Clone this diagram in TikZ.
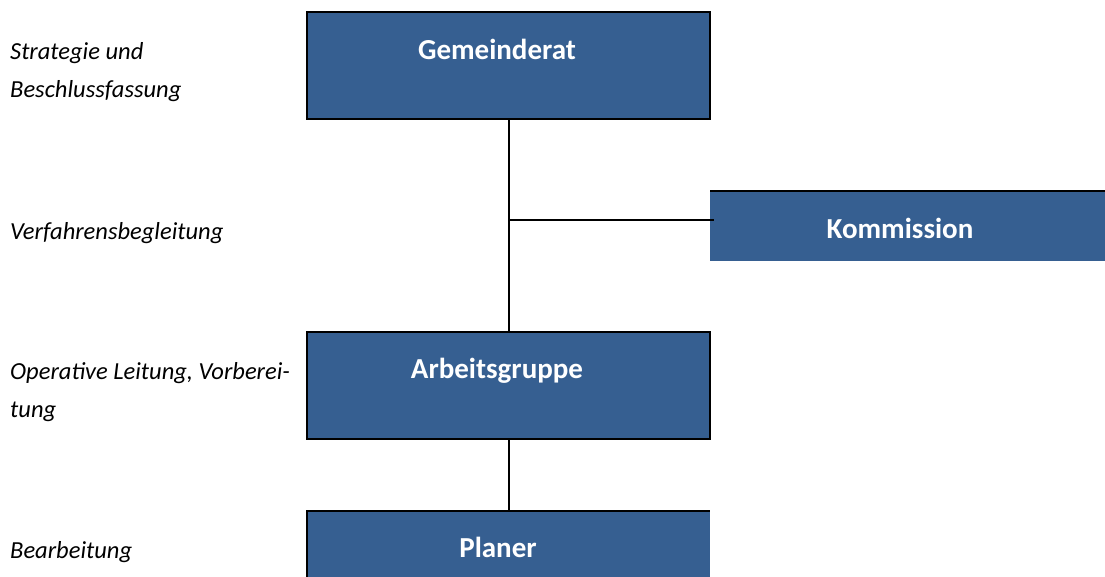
\documentclass[tikz,border=0pt]{standalone}
\usepackage{fontspec}
\setmainfont{Carlito}
\definecolor{boxblue}{RGB}{54,95,145}
\tikzset{
  orgbox/.style={fill=boxblue, draw=black, line width=2pt},
  boxtext/.style={text=white, font=\fontsize{29}{34}\selectfont\bfseries, anchor=base, inner sep=0pt},
  sidetext/.style={font=\fontsize{24.5}{38}\selectfont\itshape, anchor=base west, inner sep=0pt},
  conn/.style={draw=black, line width=2pt}
}
\begin{document}
\begin{tikzpicture}[x=1pt,y=-1pt]
\useasboundingbox (0,0) rectangle (1105,576);
\begin{scope}
\clip (0,0) rectangle (1105,576);
% boxes
\draw[orgbox] (307,12) rectangle (710,119);
\coordinate (gemB) at (509,119);
\draw[orgbox] (307,332) rectangle (710,439);
\coordinate (agT) at (509,332);
\coordinate (agB) at (509,439);
\fill[boxblue] (307,511) rectangle (710,590);
\draw[line width=2pt] (307,590) -- (307,511) -- (710,511);
\coordinate (plT) at (509,511);
\fill[boxblue] (710,191) rectangle (1110,261);
\draw[line width=2pt] (710,191) -- (1110,191);
\coordinate (komL) at (714,220);
\coordinate (junc) at (509,220);
% connectors
\draw[conn] (gemB) -- (agT);
\draw[conn] (junc) -- (komL);
\draw[conn] (agB) -- (plT);
\end{scope}
% box texts
\node[boxtext] (tgem) at (497,59) {Gemeinderat};
\node[boxtext] (tkom) at (900,238) {Kommission};
\node[boxtext] (tag) at (497,378) {Arbeitsgruppe};
\node[boxtext] (tpl) at (498,557) {Planer};
% side texts
\node[sidetext] (s1a) at (10,59) {Strategie und};
\node[sidetext] (s1b) at (10,97) {Beschlussfassung};
\node[sidetext] (s2) at (10,239) {Verfahrensbegleitung};
\node[sidetext] (s3a) at (10,379) {Operative Leitung, Vorberei-};
\node[sidetext] (s3b) at (10,417) {tung};
\node[sidetext] (s4) at (10,558) {Bearbeitung};
\end{tikzpicture}
\end{document}
